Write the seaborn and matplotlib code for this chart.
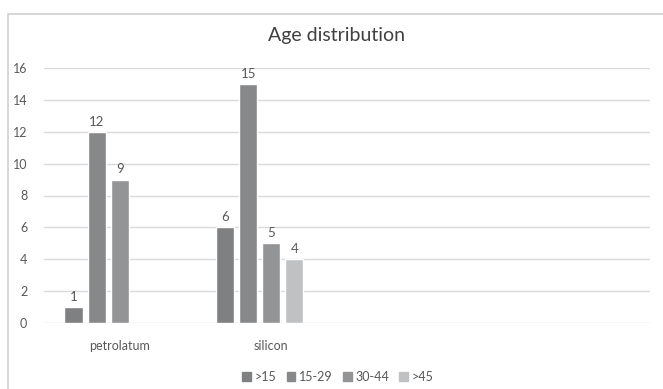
#!/usr/bin/env python3

# plot.py
#
# Grouped bar chart of the age distribution per treatment.
import matplotlib
matplotlib.use('Agg')
import matplotlib.pyplot as plt
import matplotlib.patches as patches
import pandas as pd
import seaborn as sb

TITLE = 'Age distribution'

CATEGORIES = ['petrolatum', 'silicon', ' ', '  ']
AGE_GROUPS = ['>15', '15-29', '30-44', '>45']
PETROLATUM = [1, 12, 9, None]
SILICON = [6, 15, 5, 4]
Y_TICKS = [0, 2, 4, 6, 8, 10, 12, 14, 16]

COLORS = ['#7f8082', '#87888a', '#939496', '#c0c1c3']
TEXT_COLOR = '#595959'


# Build the long form table for seaborn
rows = []
for group, p, s in zip(AGE_GROUPS, PETROLATUM, SILICON):
  if p is not None:
    rows.append({'category': 'petrolatum', 'age': group, 'count': p})
  if s is not None:
    rows.append({'category': 'silicon', 'age': group, 'count': s})
df = pd.DataFrame(rows)

# Excel reserves an extra (empty) series slot in each group
hue_order = AGE_GROUPS + ['']
palette = dict(zip(hue_order, COLORS + ['#ffffff']))

sb.set_style('white')
plt.rcParams['font.family'] = ['Lato', 'DejaVu Sans']

figure = plt.figure(figsize=(6.63, 3.89), dpi=100)
axis = figure.add_axes([44 / 663, 1 - 323 / 389, (650 - 44) / 663, (323 - 68) / 389])

sb.barplot(data=df, x='category', y='count', hue='age', order=CATEGORIES,
           hue_order=hue_order, palette=palette, width=0.76, gap=0.2,
           saturation=1, legend=False, ax=axis, zorder=2)

# Value labels above the bars
for container in axis.containers:
  axis.bar_label(container, padding=3, fontsize=9.5, color=TEXT_COLOR)

# Format the axes like the spreadsheet chart
axis.set_xlim(-0.5, len(CATEGORIES) - 0.5)
axis.set_ylim(0, 16)
axis.set_yticks(Y_TICKS)
axis.grid(axis='y', color='#d9d9d9', linewidth=1, zorder=0)
axis.set_axisbelow(True)
sb.despine(ax=axis, left=True, bottom=True, top=True, right=True)
axis.tick_params(axis='both', length=0, labelsize=9, labelcolor=TEXT_COLOR)
axis.tick_params(axis='y', pad=12)
axis.tick_params(axis='x', pad=12)
axis.set_xlabel('')
axis.set_ylabel('')

figure.text(337 / 663, 1 - 36 / 389, TITLE, ha='center', va='center',
            fontsize=14, color='#404040')

# Legend along the bottom
handles = [patches.Patch(color=c, label=g) for g, c in zip(AGE_GROUPS, COLORS)]
figure.legend(handles=handles, loc='center', bbox_to_anchor=(338 / 663, 1 - 377 / 389),
              ncol=4, frameon=False, fontsize=9, handlelength=0.7, handleheight=0.7,
              handletextpad=0.3, columnspacing=0.8, labelcolor=TEXT_COLOR)

# Chart border
figure.patches.append(patches.Rectangle((8 / 663, -0.1), 1.1, 1 - 14 / 389 + 0.1,
                                        transform=figure.transFigure, fill=False,
                                        edgecolor='#d0d0d0', linewidth=1.2))

plt.savefig('out.png', dpi=100)
plt.close()
